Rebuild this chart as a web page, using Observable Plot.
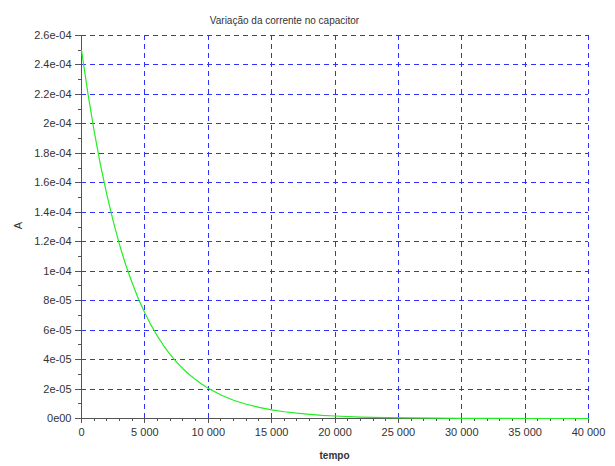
<!DOCTYPE html>
<html>
<head>
<meta charset="utf-8">
<script src="https://cdn.jsdelivr.net/npm/d3@7"></script>
<script src="https://cdn.jsdelivr.net/npm/@observablehq/plot@0.6"></script>
<style>
  body { margin: 0; background: #fff; }
  svg { font-family: "Liberation Sans", Arial, sans-serif; }
</style>
</head>
<body>
<div id="chart"></div>
<script>
const titleText = "Variação da corrente no capacitor";
const xLabel = "tempo";
const yLabel = "A";

const tempo = [0, 500, 1000, 1500, 2000, 2500, 3000, 3500, 4000, 4500, 5000, 5500, 6000, 6500, 7000, 7500, 8000, 8500, 9000, 9500, 10000,
  11000, 12000, 13000, 14000, 15000, 16000, 17000, 18000, 19000, 20000, 22000, 24000, 26000, 28000, 30000, 35000, 40000];
const corrente = [2.5e-4, 2.21e-4, 1.95e-4, 1.72e-4, 1.52e-4, 1.34e-4, 1.18e-4, 1.04e-4, 9.2e-5, 8.1e-5, 7.16e-5, 6.32e-5, 5.58e-5, 4.92e-5, 4.34e-5, 3.83e-5, 3.38e-5, 2.99e-5, 2.64e-5, 2.33e-5, 2.05e-5,
  1.6e-5, 1.24e-5, 9.7e-6, 7.5e-6, 5.9e-6, 4.6e-6, 3.6e-6, 2.8e-6, 2.1e-6, 1.7e-6, 1.0e-6, 6e-7, 4e-7, 2e-7, 1e-7, 0, 0];

const xTicks = [0, 5000, 10000, 15000, 20000, 25000, 30000, 35000, 40000];
const xTickLabels = ["0", "5 000", "10 000", "15 000", "20 000", "25 000", "30 000", "35 000", "40 000"];
const yTicks = [0, 2e-5, 4e-5, 6e-5, 8e-5, 1e-4, 1.2e-4, 1.4e-4, 1.6e-4, 1.8e-4, 2e-4, 2.2e-4, 2.4e-4, 2.6e-4];
const yTickLabels = ["0e00", "2e-05", "4e-05", "6e-05", "8e-05", "1e-04", "1.2e-04", "1.4e-04", "1.6e-04", "1.8e-04", "2e-04", "2.2e-04", "2.4e-04", "2.6e-04"];
const xMinor = d3.range(0, 40001, 1000).filter(v => v % 5000 !== 0);
const yMinor = d3.range(1e-5, 2.6e-4, 2e-5);

const data = tempo.map((t, i) => ({t, i: corrente[i]}));
const textColor = "#333";
const gridColor = "#3030ff";

const chart = Plot.plot({
  width: 615,
  height: 466,
  marginLeft: 81,
  marginRight: 27,
  marginTop: 35,
  marginBottom: 48,
  style: {fontSize: "11px", color: textColor, background: "#fff"},
  x: {domain: [0, 40000]},
  y: {domain: [0, 2.6e-4]},
  marks: [
    Plot.ruleX(xTicks.slice(1), {stroke: gridColor, strokeDasharray: "5,4", strokeWidth: 1, shapeRendering: "crispEdges"}),
    Plot.ruleY(yTicks.slice(1), {stroke: gridColor, strokeDasharray: "5,4", strokeWidth: 1, shapeRendering: "crispEdges"}),
    Plot.axisX(xTicks, {tickSize: 5, tickPadding: 5, stroke: "#555", tickFormat: (d, i) => xTickLabels[i], label: null, fill: textColor, shapeRendering: "crispEdges"}),
    Plot.axisX(xMinor, {tickSize: 3, tickFormat: () => "", stroke: "#555", label: null, shapeRendering: "crispEdges"}),
    Plot.axisY(yTicks, {tickSize: 6, tickPadding: 4, stroke: "#555", tickFormat: (d, i) => yTickLabels[i], label: null, fill: textColor, shapeRendering: "crispEdges"}),
    Plot.axisY(yMinor, {tickSize: 3, tickFormat: () => "", stroke: "#555", label: null, shapeRendering: "crispEdges"}),
    Plot.ruleX([0], {stroke: "#555", strokeWidth: 1.5, shapeRendering: "crispEdges"}),
    Plot.ruleY([0], {stroke: "#555", strokeWidth: 1.5, shapeRendering: "crispEdges"}),
    Plot.line(data, {x: "t", y: "i", stroke: "#22ee22", strokeWidth: 1.2}),
    Plot.text([titleText], {frameAnchor: "top-left", dx: 203, dy: -19, textAnchor: "middle", fontSize: 10, fill: textColor, letterSpacing: "0.5px"}),
    Plot.text([xLabel], {frameAnchor: "bottom-left", dx: 253, dy: 40, textAnchor: "middle", fontSize: 10, fontWeight: "bold", fill: textColor, letterSpacing: "0.8px"}),
    Plot.text([yLabel], {frameAnchor: "top-left", dx: -67, dy: 190, rotate: -90, textAnchor: "middle", fontSize: 11, fill: textColor})
  ]
});
document.getElementById("chart").append(chart);
</script>
</body>
</html>
